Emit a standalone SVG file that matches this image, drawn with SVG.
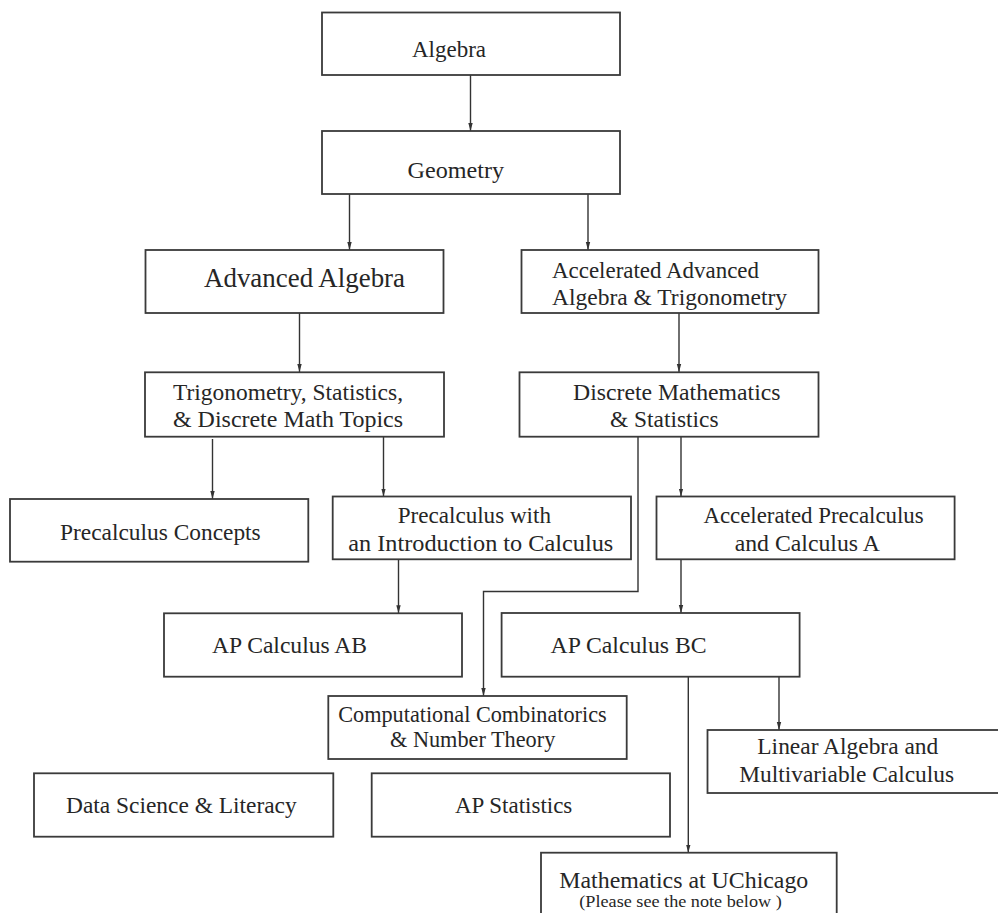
<svg xmlns="http://www.w3.org/2000/svg" width="998" height="913" viewBox="0 0 998 913">
<defs>
<style>
.box rect{fill:#fff;stroke:#3a3a3a;stroke-width:1.8}
.box text{font-family:"Liberation Serif","Times New Roman",serif;font-size:23px;fill:#262626}
.big{font-size:26.5px !important}
.small{font-size:17px !important}
#connectors path{fill:none;stroke:#333;stroke-width:1.4}
</style>
<marker id="ah" markerUnits="userSpaceOnUse" markerWidth="10" markerHeight="10" refX="8" refY="4" orient="auto">
<path d="M0,1.8 L8,4 L0,6.2 z" fill="#333"/>
</marker>
</defs>
<rect width="998" height="913" fill="#fff"/>
<g id="connectors">
<path d="M470.5,75 V131" marker-end="url(#ah)"/>
<path d="M349.5,194 V250" marker-end="url(#ah)"/>
<path d="M588,194 V250" marker-end="url(#ah)"/>
<path d="M299.5,313 V372" marker-end="url(#ah)"/>
<path d="M679,313 V372" marker-end="url(#ah)"/>
<path d="M212.5,439 V499" marker-end="url(#ah)"/>
<path d="M383.5,437 V496.5" marker-end="url(#ah)"/>
<path d="M681,437 V496.5" marker-end="url(#ah)"/>
<path d="M398.5,559.3 V613.3" marker-end="url(#ah)"/>
<path d="M681,559.3 V613" marker-end="url(#ah)"/>
<path d="M638,437 V591.5 H483.5 V696" marker-end="url(#ah)"/>
<path d="M688.3,676.7 V852.7" marker-end="url(#ah)"/>
<path d="M779,676.7 V730" marker-end="url(#ah)"/>
</g>
<g id="algebra" class="box"><rect x="322" y="12.5" width="298" height="62.5"/><text x="412" y="57" textLength="74" lengthAdjust="spacingAndGlyphs">Algebra</text></g>
<g id="geometry" class="box"><rect x="322" y="131" width="298" height="63"/><text x="407.5" y="178" textLength="96.5" lengthAdjust="spacingAndGlyphs">Geometry</text></g>
<g id="advanced-algebra" class="box"><rect x="145.5" y="250" width="298" height="63"/><text class="big" x="204" y="287" textLength="201" lengthAdjust="spacingAndGlyphs">Advanced Algebra</text></g>
<g id="accelerated-advanced" class="box"><rect x="521.5" y="250" width="297" height="63"/><text x="552" y="278" textLength="207" lengthAdjust="spacingAndGlyphs">Accelerated Advanced</text><text x="552" y="305" textLength="235" lengthAdjust="spacingAndGlyphs">Algebra &amp; Trigonometry</text></g>
<g id="trig-stats" class="box"><rect x="145" y="372.3" width="299" height="64.4"/><text x="173" y="400" textLength="230" lengthAdjust="spacingAndGlyphs">Trigonometry, Statistics,</text><text x="173" y="427" textLength="230" lengthAdjust="spacingAndGlyphs">&amp; Discrete Math Topics</text></g>
<g id="discrete-math" class="box"><rect x="519.5" y="372.3" width="299" height="64.4"/><text x="573" y="400" textLength="207.5" lengthAdjust="spacingAndGlyphs">Discrete Mathematics</text><text x="610" y="427" textLength="108.5" lengthAdjust="spacingAndGlyphs">&amp; Statistics</text></g>
<g id="precalc-concepts" class="box"><rect x="10" y="499" width="298.3" height="62.7"/><text x="60" y="540" textLength="200.7" lengthAdjust="spacingAndGlyphs">Precalculus Concepts</text></g>
<g id="precalc-intro" class="box"><rect x="332.7" y="496.5" width="298.3" height="62.8"/><text x="397.7" y="523.3" textLength="153.3" lengthAdjust="spacingAndGlyphs">Precalculus with</text><text x="348.3" y="551" textLength="265" lengthAdjust="spacingAndGlyphs">an Introduction to Calculus</text></g>
<g id="acc-precalc" class="box"><rect x="656.5" y="496.5" width="298.1" height="62.8"/><text x="703.4" y="523.3" textLength="220.3" lengthAdjust="spacingAndGlyphs">Accelerated Precalculus</text><text x="734.7" y="551" textLength="145.1" lengthAdjust="spacingAndGlyphs">and Calculus A</text></g>
<g id="ap-calc-ab" class="box"><rect x="164" y="613.3" width="298" height="63.4"/><text x="212" y="653.3" textLength="155" lengthAdjust="spacingAndGlyphs">AP Calculus AB</text></g>
<g id="ap-calc-bc" class="box"><rect x="501.6" y="613" width="298" height="63.7"/><text x="550.6" y="653.3" textLength="156" lengthAdjust="spacingAndGlyphs">AP Calculus BC</text></g>
<g id="comp-comb" class="box"><rect x="328.3" y="696" width="298.4" height="63"/><text x="338.3" y="721.7" textLength="268.4" lengthAdjust="spacingAndGlyphs">Computational Combinatorics</text><text x="390" y="746.7" textLength="165.3" lengthAdjust="spacingAndGlyphs">&amp; Number Theory</text></g>
<g id="linear-algebra" class="box"><rect x="707.5" y="730" width="298" height="63"/><text x="757.3" y="754" textLength="181" lengthAdjust="spacingAndGlyphs">Linear Algebra and</text><text x="739.3" y="781.7" textLength="214.7" lengthAdjust="spacingAndGlyphs">Multivariable Calculus</text></g>
<g id="data-science" class="box"><rect x="34" y="773.3" width="299.3" height="63.4"/><text x="66" y="813.3" textLength="230.7" lengthAdjust="spacingAndGlyphs">Data Science &amp; Literacy</text></g>
<g id="ap-statistics" class="box"><rect x="371.7" y="773.3" width="298.3" height="63.4"/><text x="455" y="813.3" textLength="117.3" lengthAdjust="spacingAndGlyphs">AP Statistics</text></g>
<g id="uchicago" class="box"><rect x="541" y="852.7" width="295.7" height="64"/><text x="559.3" y="888" textLength="249" lengthAdjust="spacingAndGlyphs">Mathematics at UChicago</text><text class="small" x="579.3" y="906.5" textLength="202.4" lengthAdjust="spacingAndGlyphs">(Please see the note below )</text></g>
</svg>
